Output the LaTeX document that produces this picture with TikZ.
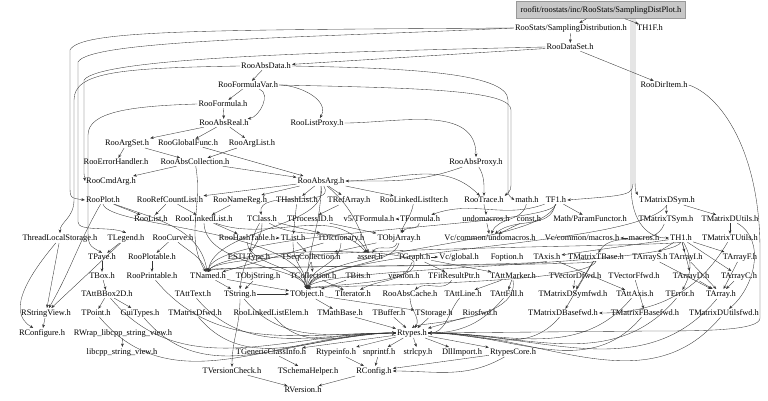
\documentclass[tikz,border=0pt]{standalone}
\usepackage{fontspec}
\setmainfont{Liberation Serif}
\usetikzlibrary{arrows.meta}

\tikzset{
	datei/.style={inner sep=1pt, font=\fontsize{8.4}{9}\selectfont},
	wurzel/.style={datei, fill=black!22, draw=black!40, minimum width=169pt,
	minimum height=17pt},
	dep/.style={-{Stealth[length=3.5pt,width=2.8pt]}, draw=black!80,
	line width=0.35pt},
}

\begin{document}
\begin{tikzpicture}[x=1pt,y=1pt]
	\useasboundingbox (0,0) rectangle (768,-401);
	% Knoten oben
	\node[wurzel] (sdp) at (601,-10) {roofit/roostats/inc/RooStats/SamplingDistPlot.h};
	\node[datei] (sdist) at (571,-28) {RooStats/SamplingDistribution.h};
	\node[datei] (thonef) at (650,-28) {TH1F.h};
	\node[datei] (rds) at (570,-47) {RooDataSet.h};
	\node[datei] (rad) at (266,-66) {RooAbsData.h};
	\node[datei] (rfv) at (248,-85) {RooFormulaVar.h};
	\node[datei] (rdi) at (664,-85) {RooDirItem.h};
	\node[datei] (rfo) at (223,-104) {RooFormula.h};
	\node[datei] (rar) at (224,-123) {RooAbsReal.h};
	\node[datei] (rlp) at (317,-123) {RooListProxy.h};
	\node[datei] (ras) at (127,-143) {RooArgSet.h};
	\node[datei] (rgf) at (188,-143) {RooGlobalFunc.h};
	\node[datei] (ral) at (252,-143) {RooArgList.h};
	\node[datei] (reh) at (116,-162) {RooErrorHandler.h};
	\node[datei] (rac) at (195,-162) {RooAbsCollection.h};
	\node[datei] (rap) at (476,-162) {RooAbsProxy.h};
	\node[datei] (rca) at (111,-181) {RooCmdArg.h};
	\node[datei] (rag) at (321,-181) {RooAbsArg.h};
	% Zeile 200
	\node[datei] (rpl) at (103,-200) {RooPlot.h};
	\node[datei] (rrc) at (170,-200) {RooRefCountList.h};
	\node[datei] (rnr) at (240,-200) {RooNameReg.h};
	\node[datei] (thl) at (297,-200) {THashList.h};
	\node[datei] (tra) at (349,-200) {TRefArray.h};
	\node[datei] (rlli) at (414,-200) {RooLinkedListIter.h};
	\node[datei] (rtr) at (484,-200) {RooTrace.h};
	\node[datei] (mth) at (527,-200) {math.h};
	\node[datei] (tfone) at (556,-200) {TF1.h};
	\node[datei] (tmds) at (667,-200) {TMatrixDSym.h};
	% Zeile 219
	\node[datei] (rli) at (151,-219) {RooList.h};
	\node[datei] (rll) at (204,-219) {RooLinkedList.h};
	\node[datei] (tcl) at (262,-219) {TClass.h};
	\node[datei] (tpid) at (310,-219) {TProcessID.h};
	\node[datei] (vfive) at (369,-219) {v5/TFormula.h};
	\node[datei] (tfo) at (420,-219) {TFormula.h};
	\node[datei] (undo) at (486,-219) {undomacros.h};
	\node[datei] (cst) at (529,-219) {const.h};
	\node[datei] (mpf) at (590,-219) {Math/ParamFunctor.h};
	\node[datei] (tmts) at (666,-219) {TMatrixTSym.h};
	\node[datei] (tmdu) at (730,-219) {TMatrixDUtils.h};
	% Zeile 238
	\node[datei] (tls) at (60,-238) {ThreadLocalStorage.h};
	\node[datei] (tlg) at (126,-238) {TLegend.h};
	\node[datei] (rcu) at (173,-238) {RooCurve.h};
	\node[datei] (rht) at (247,-238) {RooHashTable.h};
	\node[datei] (tli) at (293,-238) {TList.h};
	\node[datei] (tdi) at (341,-238) {TDictionary.h};
	\node[datei] (toa) at (399,-238) {TObjArray.h};
	\node[datei] (vcu) at (490,-238) {Vc/common/undomacros.h};
	\node[datei] (vcm) at (582,-238) {Vc/common/macros.h};
	\node[datei] (mac) at (644,-238) {macros.h};
	\node[datei] (thone) at (681,-238) {TH1.h};
	\node[datei] (tmtu) at (730,-238) {TMatrixTUtils.h};
	% Zeile 257
	\node[datei] (tpv) at (102,-257) {TPave.h};
	\node[datei] (rpa) at (152,-257) {RooPlotable.h};
	\node[datei] (estl) at (249,-257) {ESTLType.h};
	\node[datei] (tsc) at (311,-257) {TSeqCollection.h};
	\node[datei] (ass) at (370,-257) {assert.h};
	\node[datei] (tgr) at (414,-257) {TGraph.h};
	\node[datei] (vcg) at (459,-257) {Vc/global.h};
	\node[datei] (fop) at (507,-257) {Foption.h};
	\node[datei] (tax) at (547,-257) {TAxis.h};
	\node[datei] (tmtb) at (596,-257) {TMatrixTBase.h};
	\node[datei] (tas) at (650,-257) {TArrayS.h};
	\node[datei] (tai) at (686,-257) {TArrayI.h};
	\node[datei] (taf) at (740,-257) {TArrayF.h};
	% Zeile 276
	\node[datei] (tbx) at (102,-276) {TBox.h};
	\node[datei] (rpr) at (152,-276) {RooPrintable.h};
	\node[datei] (tnm) at (208,-276) {TNamed.h};
	\node[datei] (tos) at (258,-276) {TObjString.h};
	\node[datei] (tco) at (313,-276) {TCollection.h};
	\node[datei] (tbi) at (358,-276) {TBits.h};
	\node[datei] (ver) at (404,-276) {version.h};
	\node[datei] (tfrp) at (454,-276) {TFitResultPtr.h};
	\node[datei] (tam) at (513,-276) {TAttMarker.h};
	\node[datei] (tvd) at (575,-276) {TVectorDfwd.h};
	\node[datei] (tvf) at (634,-276) {TVectorFfwd.h};
	\node[datei] (tad) at (691,-276) {TArrayD.h};
	\node[datei] (tac) at (739,-276) {TArrayC.h};
	% Zeile 294
	\node[datei] (tbb) at (107,-294) {TAttBBox2D.h};
	\node[datei] (tat) at (193,-294) {TAttText.h};
	\node[datei] (tst) at (240,-294) {TString.h};
	\node[datei] (tob) at (307,-294) {TObject.h};
	\node[datei] (tit) at (353,-294) {TIterator.h};
	\node[datei] (rach) at (410,-294) {RooAbsCache.h};
	\node[datei] (tal) at (463,-294) {TAttLine.h};
	\node[datei] (taff) at (507,-294) {TAttFill.h};
	\node[datei] (tmdsf) at (573,-294) {TMatrixDSymfwd.h};
	\node[datei] (taa) at (635,-294) {TAttAxis.h};
	\node[datei] (ter) at (680,-294) {TError.h};
	\node[datei] (tar) at (721,-294) {TArray.h};
	% Zeile 313
	\node[datei] (rsv) at (46,-313) {RStringView.h};
	\node[datei] (tpt) at (96,-313) {TPoint.h};
	\node[datei] (gui) at (140,-313) {GuiTypes.h};
	\node[datei] (tmdf) at (195,-313) {TMatrixDfwd.h};
	\node[datei] (rlle) at (271,-313) {RooLinkedListElem.h};
	\node[datei] (tmb) at (340,-313) {TMathBase.h};
	\node[datei] (tbu) at (389,-313) {TBuffer.h};
	\node[datei] (tsto) at (434,-313) {TStorage.h};
	\node[datei] (rio) at (480,-313) {Riosfwd.h};
	\node[datei] (tmdb) at (563,-313) {TMatrixDBasefwd.h};
	\node[datei] (tmfb) at (645,-313) {TMatrixFBasefwd.h};
	\node[datei] (tmduf) at (724,-313) {TMatrixDUtilsfwd.h};
	% Knoten unten
	\node[datei] (rcf) at (42,-333) {RConfigure.h};
	\node[datei] (rwr) at (123,-333) {RWrap\_libcpp\_string\_view.h};
	\node[datei] (rty) at (412,-333) {Rtypes.h};
	\node[datei] (lsv) at (122,-352) {libcpp\_string\_view.h};
	\node[datei] (tgci) at (271,-352) {TGenericClassInfo.h};
	\node[datei] (rti) at (336,-352) {Rtypeinfo.h};
	\node[datei] (snp) at (379,-352) {snprintf.h};
	\node[datei] (stl) at (418,-352) {strlcpy.h};
	\node[datei] (dll) at (462,-352) {DllImport.h};
	\node[datei] (rtc) at (513,-352) {RtypesCore.h};
	\node[datei] (tvc) at (232,-371) {TVersionCheck.h};
	\node[datei] (tsh) at (308,-371) {TSchemaHelper.h};
	\node[datei] (rcg) at (374,-371) {RConfig.h};
	\node[datei] (rve) at (303,-390) {RVersion.h};

	% Kanten gerade
	\foreach \a/\b in {sdp/sdist, sdp/thonef, sdist/rds, rds/rad, rds/rdi,
		rad/rfv, rfv/rfo, rfo/rar, rar/ras, rar/rgf, rar/ral, ras/reh, ras/rac,
		ral/rac, rac/rca, rgf/rag, rac/rag, rag/rrc, rag/rnr, rag/thl, rag/tra,
		rag/rlli, rrc/rli, rrc/rll, rnr/rll, rpl/rli, thl/tli, tra/tpid,
		tfone/mpf, tmds/tmts, tmds/tmdu, tmdu/tmtu, tfo/vfive, tcl/tdi,
		tpid/toa, undo/vcu, cst/vcu, mac/vcm, tlg/tpv, rcu/rpa, rpa/rpr,
		tpv/tbx, tbx/tbb, tli/tsc, toa/tsc, tsc/tco, tco/tob, tco/tit,
		tnm/tst, tos/tst, tdi/tnm, tgr/tfrp, tgr/tam, thone/tax, thone/tas,
		thone/tai, thone/taf, thone/tad, thone/tac, tmtb/tmdsf, tmtb/tmdb,
		tas/tar, tai/tar, taf/tar, tad/tar, tac/tar, tax/taa, tbb/tpt,
		tbb/gui, rsv/rcf, rwr/lsv, tob/tsto, tbu/rty, tsto/rty, tmb/rty,
		rio/rty, rty/tgci, rty/rti, rty/snp, rty/stl, rty/dll, rty/rtc,
		rtc/rcg, rti/rcg, snp/rcg, tgci/tsh, tvc/rve, rcg/rve, tob/tmb,
		tnm/tob, tst/tob, rll/rht, rht/tli, tbi/tob, tgr/vcg, tam/tal,
		tam/taff, tvd/tmdsf, tvf/tmfb, tls/rsv, tlg/rsv}
		\draw[dep] (\a) -- (\b);

	% Kanten gebogen
	\foreach \a/\b/\o/\i in {rfv/rar/-20/10, rfv/rlp/0/60, rlp/rap/0/90,
		rap/rag/200/0, rap/rtr/-60/90, rag/rtr/0/135, tfone/tfo/200/20,
		tfo/toa/-100/60, tmts/tmtb/-110/60, tmdu/tmduf/-30/40,
		rag/tcl/-60/100, tcl/estl/-120/80, rpl/tnm/-20/100, rcu/tnm/-40/110,
		rac/tnm/-80/120, rll/ass/-20/120, rag/ass/-40/110, tcl/ass/-30/130,
		toa/ass/-110/60, rag/tob/-90/90, tst/tvc/-90/90,
		tls/rcf/-130/150, rpl/rsv/-120/60, rtc/rcg/-150/0, tmtu/tmdb/-120/0,
		thone/ter/-60/60, tfone/vcu/-100/40, mth/vcu/-100/70, rtr/undo/-90/90,
		tgr/tit/-110/30, tfrp/rach/-120/40, rlli/toa/-100/70,
		rach/rty/-90/60}
		\draw[dep] (\a) to[out=\o,in=\i] (\b);

	% Kanten zwischen den Zeilen
	\foreach \a/\b/\h/\p/\q in {thone/tnm/-247/665/220, tgr/tnm/-247/410/225,
		tfone/tnm/-228/550/215, rag/tnm/-228/330/215, thone/tob/-266/670/320,
		tax/tnm/-266/540/215, toa/tob/-266/395/315, tmtb/tob/-285/590/320,
		tsc/tob/-285/300/305, tcl/tst/-247/262/245, rht/tob/-266/250/300,
		tli/tob/-266/293/305, tdi/tob/-266/340/310, tmds/tob/-247/640/330,
		tmtb/tnm/-266/600/210, tfone/tob/-247/540/320, rll/tob/-266/205/300,
		rpl/tob/-228/110/300, tgr/tob/-285/420/315, tam/rty/-322/520/420}
		\draw[dep] (\a.south) .. controls (\p,\h) and (\q,\h) .. (\b.north);

	% Kanten nach Rtypes.h
	\foreach \a in {tpt, gui, tat, tst, rpr, tbb, rlle, tmdf}
		\draw[dep] (\a) to[out=-50,in=180] (rty);
	\foreach \a in {tmduf, tmfb, tmdb, ter, taff, tal, tar, taa}
		\draw[dep] (\a) to[out=-130,in=0] (rty);

	% lange Kanten links
	\draw[dep] (sdist.west) .. controls (200,-30) and (80,-30) .. (70,-50)
		-- (70,-185) .. controls (70,-198) .. (rpl.west);
	\draw[dep] (sdist.west) .. controls (300,-38) and (90,-40) .. (78,-62)
		-- (78,-222) .. controls (78,-232) and (110,-226) .. (tlg.north);
	\draw[dep] (rds.west) .. controls (320,-52) and (100,-58) .. (84,-80)
		-- (84,-165) .. controls (84,-175) .. (rca.west);
	\draw[dep] (rad.west) .. controls (120,-68) and (74,-72) .. (74,-100)
		-- (74,-200) .. controls (74,-218) and (60,-222) .. (tls.north);
	\draw[dep] (rfo.west) .. controls (130,-106) and (88,-112) .. (88,-135)
		-- (88,-225) .. controls (88,-245) .. (tpv.north);
	% lange Kanten rechts
	\draw[dep] ([xshift=30pt]sdp.south) -- (631,-185) .. controls (631,-225)
		and (650,-238) .. (thone.west);
	\draw[dep] ([xshift=32pt]sdp.south) -- (633,-180) .. controls (633,-195)
		.. (tfone.east);
	\draw[dep] ([xshift=34pt]sdp.south) -- (635,-170) .. controls (635,-190)
		.. (tmds.north west);
	\draw[dep] (rad.east) .. controls (400,-68) and (508,-72) .. (508,-100)
		-- (508,-185) .. controls (508,-195) .. (mth.west);
	\draw[dep] (rfv.east) .. controls (420,-88) and (511,-90) .. (511,-110)
		-- (511,-180) .. controls (511,-190) .. (rtr.north east);
	\draw[dep] (rdi.east) .. controls (720,-95) and (760,-150) .. (760,-250)
		-- (760,-318) .. controls (760,-331) and (700,-331) .. (650,-331)
		-- (rty.east);
\end{tikzpicture}
\end{document}
